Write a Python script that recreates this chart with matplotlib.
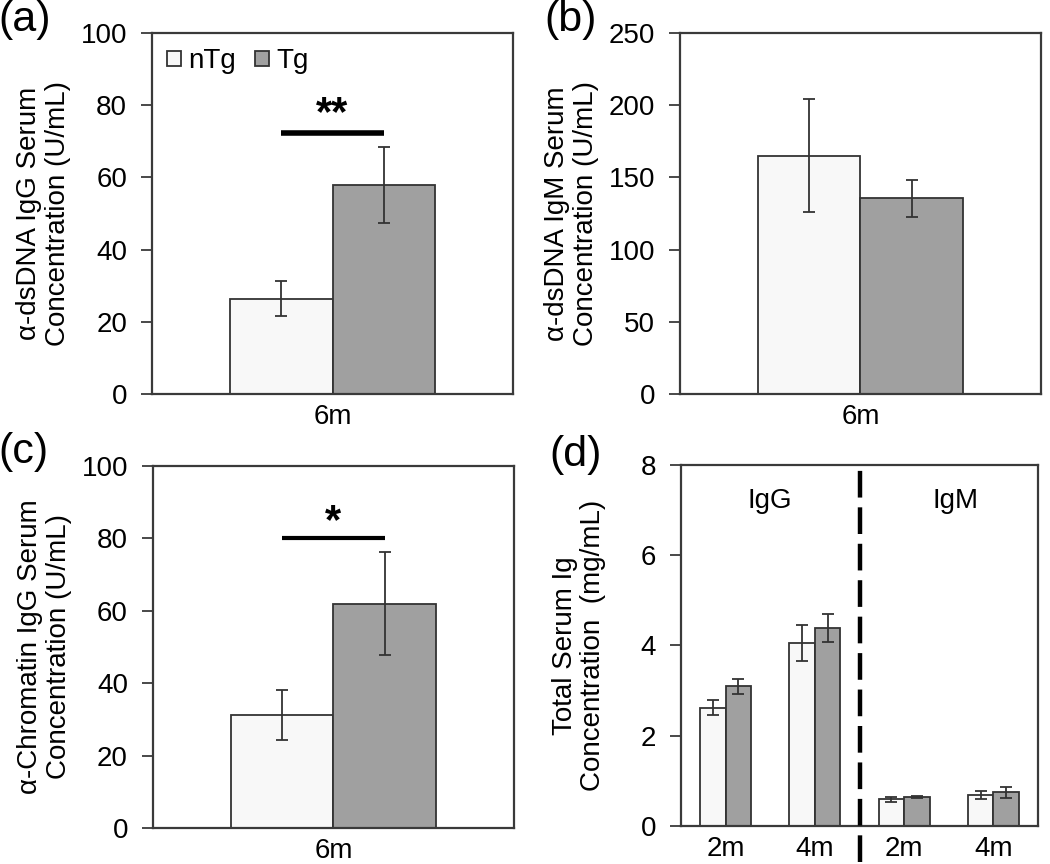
import numpy as np
import matplotlib
matplotlib.use("Agg")
import matplotlib.pyplot as plt

plt.rcParams['font.family'] = ['Liberation Sans', 'DejaVu Sans']

# data
groups = ['nTg', 'Tg']
bar_colors = ['#f8f8f8', '#a0a0a0']

a_means = [26.4, 57.8]
a_err = [4.9, 10.5]
b_means = [165.0, 135.5]
b_err = [39.0, 13.0]
c_means = [31.2, 62.0]
c_err = [7.0, 14.3]

d_labels = ['2m', '4m', '2m', '4m']
d_ntg = [2.62, 4.06, 0.59, 0.69]
d_ntg_err = [0.16, 0.40, 0.06, 0.09]
d_tg = [3.09, 4.38, 0.635, 0.75]
d_tg_err = [0.17, 0.31, 0.02, 0.12]

EDGE = '#333333'
SPINE = '#3a3a3a'
W = 0.285
TICK_FS = 20
LABEL_FS = 20


def style_axes(ax, ymax, ystep, xlabels):
    ax.set_ylim(0, ymax)
    ax.set_yticks(np.arange(0, ymax + ystep / 2, ystep))
    ax.set_xticks(np.arange(len(xlabels)))
    ax.set_xticklabels(xlabels)
    ax.set_xlim(-0.5, len(xlabels) - 0.5)
    ax.tick_params(axis='y', length=8, width=1.3, pad=10, labelsize=TICK_FS, color=SPINE)
    ax.tick_params(axis='x', length=0, pad=7, labelsize=TICK_FS)
    for s in ax.spines.values():
        s.set_color(SPINE)
        s.set_linewidth(1.6)


def draw_pair(ax, means, errs):
    x = np.array([-W / 2, W / 2])
    bars = ax.bar(x, means, width=W, color=bar_colors, edgecolor=EDGE, linewidth=1.3, zorder=2)
    ax.errorbar(x, means, yerr=errs, fmt='none', ecolor='#333333', elinewidth=1.3,
                capsize=4, capthick=1.3, zorder=3)
    return bars, x


def set_ylab(ax, text, xpos):
    ax.set_ylabel(text, fontsize=LABEL_FS, linespacing=1.12)
    ax.yaxis.set_label_coords(xpos, 0.5)


fig = plt.figure(figsize=(10.5, 8.64), dpi=100)

ax_a = fig.add_axes([0.1448, 0.544, 0.3438, 0.4178])
ax_b = fig.add_axes([0.6476, 0.544, 0.3438, 0.4178])
ax_c = fig.add_axes([0.1457, 0.0417, 0.3438, 0.419])
ax_d = fig.add_axes([0.6486, 0.044, 0.340, 0.418])

# (a)
bars, xa = draw_pair(ax_a, a_means, a_err)
style_axes(ax_a, 100, 20, ['6m'])
ax_a.plot(xa, [72.2, 72.2], color='black', lw=4, solid_capstyle='butt')
ax_a.text(0, 72.0, '**', ha='center', va='bottom', fontsize=30, fontweight='bold')
ax_a.legend(bars, groups, loc='upper left', ncol=2, frameon=False, fontsize=20,
            handlelength=0.5, handleheight=0.5, handletextpad=0.25, columnspacing=0.7,
            borderaxespad=0.15, bbox_to_anchor=(0.0, 1.0))
set_ylab(ax_a, 'α-dsDNA IgG Serum\nConcentration (U/mL)', -0.225)

# (b)
draw_pair(ax_b, b_means, b_err)
style_axes(ax_b, 250, 50, ['6m'])
set_ylab(ax_b, 'α-dsDNA IgM Serum\nConcentration (U/mL)', -0.225)

# (c)
_, xc = draw_pair(ax_c, c_means, c_err)
style_axes(ax_c, 100, 20, ['6m'])
ax_c.plot(xc, [80.2, 80.2], color='black', lw=3, solid_capstyle='butt')
ax_c.text(0, 79.0, '*', ha='center', va='bottom', fontsize=30, fontweight='bold')
set_ylab(ax_c, 'α-Chromatin IgG Serum\nConcentration (U/mL)', -0.225)

# (d)
xd = np.arange(len(d_labels))
ax_d.bar(xd - W / 2, d_ntg, width=W, color=bar_colors[0], edgecolor=EDGE, linewidth=1.3, zorder=2)
ax_d.bar(xd + W / 2, d_tg, width=W, color=bar_colors[1], edgecolor=EDGE, linewidth=1.3, zorder=2)
ax_d.errorbar(xd - W / 2, d_ntg, yerr=d_ntg_err, fmt='none', ecolor='#333333',
              elinewidth=1.3, capsize=4, capthick=1.3, zorder=3)
ax_d.errorbar(xd + W / 2, d_tg, yerr=d_tg_err, fmt='none', ecolor='#333333',
              elinewidth=1.3, capsize=4, capthick=1.3, zorder=3)
style_axes(ax_d, 8, 2, d_labels)
split = len(d_labels) / 2 - 0.5
ax_d.plot([split, split], [-0.8, 8], color='black', lw=3.2, dashes=(6, 2.2),
          clip_on=False, zorder=4)
ax_d.text(0.5, 7.2, 'IgG', ha='center', va='center', fontsize=20)
ax_d.text(2.57, 7.2, 'IgM', ha='center', va='center', fontsize=20)
set_ylab(ax_d, 'Total Serum Ig\nConcentration  (mg/mL)', -0.21)

# panel letters
for lbl, (fx, fy) in zip(['(a)', '(b)', '(c)', '(d)'],
                         [(-0.002, 1.0), (0.518, 1.0), (-0.002, 0.5), (0.523, 0.497)]):
    fig.text(fx, fy, lbl, fontsize=31, ha='left', va='top')

fig.savefig('out.png', dpi=100)
